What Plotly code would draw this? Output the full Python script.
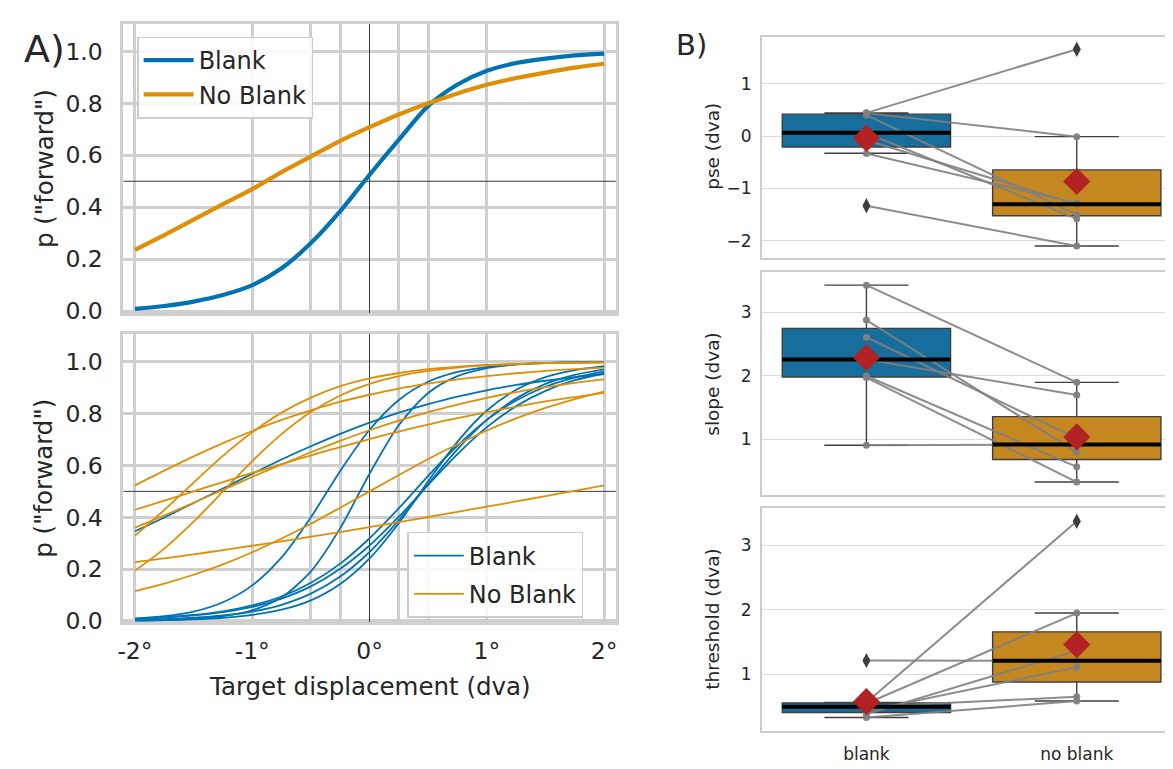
import plotly.graph_objects as go

# ---------------- Panel A data ----------------
disp = [-2, -1.75, -1.5, -1.25, -1, -0.75, -0.5, -0.25, 0, 0.25, 0.5, 0.75, 1, 1.25, 1.5, 1.75, 2]

mean_blank = [0.009, 0.020, 0.037, 0.062, 0.100, 0.165, 0.262, 0.385, 0.525, 0.660, 0.790, 0.872,
              0.925, 0.955, 0.972, 0.984, 0.991]
mean_noblank = [0.236, 0.293, 0.352, 0.412, 0.470, 0.535, 0.595, 0.655, 0.708, 0.757, 0.800, 0.838,
                0.871, 0.897, 0.918, 0.937, 0.952]

blank_1 = [0.346, 0.399, 0.455, 0.511, 0.568, 0.623, 0.674, 0.722, 0.765, 0.804, 0.837, 0.866, 0.890, 0.911, 0.927, 0.941, 0.953]
blank_2 = [0.008, 0.013, 0.021, 0.034, 0.054, 0.086, 0.133, 0.201, 0.291, 0.402, 0.525, 0.644, 0.748, 0.829, 0.888, 0.929, 0.955]
blank_3 = [0.009, 0.014, 0.023, 0.037, 0.060, 0.094, 0.147, 0.221, 0.319, 0.435, 0.560, 0.677, 0.776, 0.851, 0.904, 0.939, 0.962]
blank_4 = [0.001, 0.003, 0.008, 0.018, 0.041, 0.091, 0.191, 0.358, 0.568, 0.756, 0.880, 0.945, 0.976, 0.990, 0.996, 0.998, 0.999]
blank_5 = [0.004, 0.007, 0.012, 0.021, 0.036, 0.062, 0.105, 0.171, 0.266, 0.389, 0.528, 0.663, 0.776, 0.859, 0.915, 0.950, 0.971]
blank_6 = [0.009, 0.018, 0.036, 0.072, 0.137, 0.245, 0.400, 0.579, 0.738, 0.853, 0.923, 0.961, 0.980, 0.990, 0.995, 0.998, 0.999]
blank_7 = [0.002, 0.003, 0.006, 0.012, 0.023, 0.043, 0.079, 0.142, 0.241, 0.378, 0.539, 0.692, 0.812, 0.892, 0.941, 0.968, 0.983]

noblank_1 = [0.523, 0.580, 0.635, 0.686, 0.733, 0.776, 0.813, 0.846, 0.873, 0.897, 0.916, 0.932, 0.945, 0.956, 0.965, 0.972, 0.978]
noblank_2 = [0.227, 0.241, 0.257, 0.273, 0.290, 0.307, 0.325, 0.343, 0.362, 0.381, 0.401, 0.421, 0.441, 0.461, 0.482, 0.502, 0.523]
noblank_3 = [0.429, 0.464, 0.500, 0.536, 0.571, 0.605, 0.639, 0.671, 0.702, 0.731, 0.758, 0.783, 0.806, 0.827, 0.847, 0.864, 0.880]
noblank_4 = [0.194, 0.279, 0.383, 0.500, 0.617, 0.721, 0.806, 0.870, 0.915, 0.945, 0.965, 0.978, 0.986, 0.991, 0.995, 0.997, 0.998]
noblank_5 = [0.329, 0.428, 0.534, 0.637, 0.728, 0.804, 0.862, 0.906, 0.936, 0.957, 0.972, 0.981, 0.988, 0.992, 0.995, 0.997, 0.998]
noblank_6 = [0.360, 0.407, 0.456, 0.506, 0.556, 0.604, 0.651, 0.695, 0.736, 0.773, 0.806, 0.835, 0.861, 0.883, 0.902, 0.919, 0.932]
noblank_7 = [0.115, 0.144, 0.178, 0.218, 0.265, 0.318, 0.375, 0.437, 0.500, 0.563, 0.625, 0.682, 0.735, 0.782, 0.822, 0.856, 0.885]

x_tickvals = [-2, -1, 0, 1, 2]
x_ticktext = ["-2°", "-1°", "0°", "1°", "2°"]
x_minor_grid = [-0.5, -0.25, 0.25, 0.5]
chance_level = 0.5

# ---------------- Panel B data ----------------
conditions = ["blank", "no blank"]

pse_blank = [-1.33, 0.445, 0.40, -0.08, 0.06, -0.33, 0.44]
pse_noblank = [-2.10, 1.66, -1.50, -1.30, -1.58, -1.28, -0.01]
slope_blank = [0.91, 1.975, 2.00, 3.43, 2.26, 2.88, 2.61]
slope_noblank = [0.92, 0.33, 0.57, 1.90, 1.70, 0.80, 1.02]
thr_blank = [1.21, 0.56, 0.545, 0.328, 0.496, 0.38, 0.43]
thr_noblank = [1.209, 3.37, 1.947, 0.583, 0.649, 1.365, 1.107]

# box statistics per condition: [blank, no blank]
pse_q1 = [-0.207, -1.52]
pse_med = [0.063, -1.30]
pse_q3 = [0.42, -0.645]
pse_lo = [-0.326, -2.10]
pse_hi = [0.445, -0.01]
pse_fliers = [[-1.33], [1.66]]
pse_mean = [-0.04, -0.865]

slope_q1 = [1.985, 0.685]
slope_med = [2.26, 0.92]
slope_q3 = [2.75, 1.36]
slope_lo = [0.91, 0.33]
slope_hi = [3.43, 1.90]
slope_fliers = [[], []]
slope_mean = [2.29, 1.04]

thr_q1 = [0.405, 0.878]
thr_med = [0.496, 1.209]
thr_q3 = [0.552, 1.656]
thr_lo = [0.328, 0.583]
thr_hi = [0.56, 1.947]
thr_fliers = [[1.21], [3.37]]
thr_mean = [0.573, 1.458]

# ---------------- styles ----------------
W, H = 1173, 769
BLUE = "#0173b2"
ORANGE = "#de8f05"
BOX_FILL = ["#176e9d", "#c58820"]
GRID_A = "#cfcfcf"
TXT = "#262626"
FONT = "DejaVu Sans"
XRANGE_A = [-2.1, 2.1]


def px_x(p):
    return p / W


def px_y(p):
    return 1 - p / H


fig = go.Figure()

# chance-level reference lines (drawn first, under the curves)
for xa, ya in (("x", "y"), ("x2", "y2")):
    fig.add_trace(go.Scatter(x=XRANGE_A, y=[chance_level, chance_level], mode="lines",
                             line=dict(color="#3a3a3a", width=1), showlegend=False,
                             hoverinfo="skip", xaxis=xa, yaxis=ya))

# ---- Panel A top: group means ----
fig.add_trace(go.Scatter(x=disp, y=mean_blank, mode="lines", name="Blank",
                         line=dict(color=BLUE, width=4.2, shape="spline", smoothing=0.8),
                         xaxis="x", yaxis="y", legend="legend", hoverinfo="skip"))
fig.add_trace(go.Scatter(x=disp, y=mean_noblank, mode="lines", name="No Blank",
                         line=dict(color=ORANGE, width=4.2, shape="spline", smoothing=0.8),
                         xaxis="x", yaxis="y", legend="legend", hoverinfo="skip"))

# ---- Panel A bottom: individual subjects ----
blank_curves = [blank_1, blank_2, blank_3, blank_4, blank_5, blank_6, blank_7]
noblank_curves = [noblank_1, noblank_2, noblank_3, noblank_4, noblank_5, noblank_6, noblank_7]
for i, c in enumerate(blank_curves):
    fig.add_trace(go.Scatter(x=disp, y=c, mode="lines", name="Blank",
                             line=dict(color=BLUE, width=1.8, shape="spline", smoothing=0.8),
                             showlegend=(i == 0), legendgroup="b",
                             xaxis="x2", yaxis="y2", legend="legend2", hoverinfo="skip"))
for i, c in enumerate(noblank_curves):
    fig.add_trace(go.Scatter(x=disp, y=c, mode="lines", name="No Blank",
                             line=dict(color=ORANGE, width=1.8, shape="spline", smoothing=0.8),
                             showlegend=(i == 0), legendgroup="nb",
                             xaxis="x2", yaxis="y2", legend="legend2", hoverinfo="skip"))

# ---- Panel B ----
panels = [
    ("x3", "y3", pse_blank, pse_noblank, pse_q1, pse_med, pse_q3, pse_lo, pse_hi, pse_fliers, pse_mean),
    ("x4", "y4", slope_blank, slope_noblank, slope_q1, slope_med, slope_q3, slope_lo, slope_hi, slope_fliers, slope_mean),
    ("x5", "y5", thr_blank, thr_noblank, thr_q1, thr_med, thr_q3, thr_lo, thr_hi, thr_fliers, thr_mean),
]
BOX_W = 0.8
for xa, ya, vb, vnb, q1, med, q3, lo, hi, fl, mn in panels:
    for k in range(2):
        fig.add_trace(go.Box(x=[k], q1=[q1[k]], median=[med[k]], q3=[q3[k]],
                             lowerfence=[lo[k]], upperfence=[hi[k]],
                             width=BOX_W, whiskerwidth=0.5, fillcolor=BOX_FILL[k],
                             line=dict(color="#3f3f3f", width=1.4), boxpoints=False,
                             showlegend=False, hoverinfo="skip", xaxis=xa, yaxis=ya))
    for i in range(len(vb)):
        fig.add_trace(go.Scatter(x=[0, 1], y=[vb[i], vnb[i]], mode="lines+markers",
                                 line=dict(color="rgba(128,128,128,0.9)", width=2),
                                 marker=dict(size=7, color="rgba(128,128,128,0.95)"),
                                 showlegend=False, hoverinfo="skip", xaxis=xa, yaxis=ya))
    for k in range(2):
        fig.add_trace(go.Scatter(x=[k - BOX_W / 2, k + BOX_W / 2], y=[med[k], med[k]], mode="lines",
                                 line=dict(color="black", width=4),
                                 showlegend=False, hoverinfo="skip", xaxis=xa, yaxis=ya))
        if fl[k]:
            fig.add_trace(go.Scatter(x=[k] * len(fl[k]), y=fl[k], mode="markers",
                                     marker=dict(symbol="diamond-tall", size=11, color="#3d3d3d"),
                                     showlegend=False, hoverinfo="skip", xaxis=xa, yaxis=ya))
    fig.add_trace(go.Scatter(x=[0, 1], y=mn, mode="markers",
                             marker=dict(symbol="diamond", size=21, color="#b22222"),
                             showlegend=False, hoverinfo="skip", xaxis=xa, yaxis=ya))

# ---------------- axes ----------------
A_xdom = [px_x(110), px_x(606)]
axA_common = dict(range=XRANGE_A, tickvals=x_tickvals, ticktext=x_ticktext,
                  showgrid=True, gridcolor=GRID_A, gridwidth=2.5,
                  zeroline=True, zerolinecolor="#3a3a3a", zerolinewidth=1,
                  showline=True, linecolor=GRID_A, linewidth=2.5, mirror=True, ticks="",
                  minor=dict(tickvals=x_minor_grid, showgrid=True, gridcolor=GRID_A, gridwidth=2.5, ticks=""),
                  tickfont=dict(family=FONT, size=23.5, color=TXT), domain=A_xdom)
ayA_common = dict(range=[-0.006, 1.106], tickvals=[0, 0.2, 0.4, 0.6, 0.8, 1.0],
                  ticktext=["0.0", "0.2", "0.4", "0.6", "0.8", "1.0"],
                  showgrid=True, gridcolor=GRID_A, gridwidth=2.5, zeroline=False,
                  showline=True, linecolor=GRID_A, linewidth=2.5, mirror=True, ticks="",
                  tickfont=dict(family=FONT, size=23.5, color=TXT), ticklabelstandoff=13)

fig.update_layout(
    xaxis=dict(axA_common, anchor="y", showticklabels=False),
    yaxis=dict(ayA_common, anchor="x", domain=[px_y(310), px_y(16)]),
    xaxis2=dict(axA_common, anchor="y2", showticklabels=True, ticklabelstandoff=6),
    yaxis2=dict(ayA_common, anchor="x2", domain=[px_y(625), px_y(332)]),
)

B_xdom = [px_x(753), 1.0]
axB_common = dict(range=[-0.497, 1.486], tickvals=[0, 1], ticktext=conditions,
                  showgrid=False, zeroline=False, showline=True, linecolor="#cccccc",
                  linewidth=1.8, mirror=True, ticks="", domain=B_xdom,
                  tickfont=dict(family=FONT, size=17, color=TXT))
ayB_common = dict(showgrid=True, gridcolor="#dcdcdc", gridwidth=1.3, zeroline=False,
                  showline=True, linecolor="#cccccc", linewidth=1.8, mirror=False, ticks="",
                  tickfont=dict(family=FONT, size=17, color=TXT), ticklabelstandoff=5)
fig.update_layout(
    xaxis3=dict(axB_common, anchor="y3", showticklabels=False),
    yaxis3=dict(ayB_common, anchor="x3", range=[-2.323, 1.904], tickvals=[-2, -1, 0, 1],
                domain=[px_y(254), px_y(29)]),
    xaxis4=dict(axB_common, anchor="y4", showticklabels=False),
    yaxis4=dict(ayB_common, anchor="x4", range=[0.132, 3.63], tickvals=[1, 2, 3],
                domain=[px_y(495), px_y(269)]),
    xaxis5=dict(axB_common, anchor="y5", showticklabels=True, ticklabelstandoff=7),
    yaxis5=dict(ayB_common, anchor="x5", range=[0.125, 3.57], tickvals=[1, 2, 3],
                domain=[px_y(735), px_y(509)]),
)

annotations = [
    dict(text="A)", x=px_x(8), y=px_y(42), xref="paper", yref="paper", xanchor="left", yanchor="middle",
         showarrow=False, font=dict(family=FONT, size=38, color=TXT)),
    dict(text="B)", x=px_x(665), y=px_y(38), xref="paper", yref="paper", xanchor="left", yanchor="middle",
         showarrow=False, font=dict(family=FONT, size=29, color=TXT)),
    dict(text='p ("forward")', x=px_x(30), y=px_y(163), xref="paper", yref="paper", textangle=-90,
         xanchor="center", yanchor="middle", showarrow=False, font=dict(family=FONT, size=24.5, color=TXT)),
    dict(text='p ("forward")', x=px_x(30), y=px_y(478), xref="paper", yref="paper", textangle=-90,
         xanchor="center", yanchor="middle", showarrow=False, font=dict(family=FONT, size=24.5, color=TXT)),
    dict(text="Target displacement (dva)", x=px_x(358), y=px_y(690), xref="paper", yref="paper",
         xanchor="center", yanchor="middle", showarrow=False, font=dict(family=FONT, size=24.5, color=TXT)),
    dict(text="pse (dva)", x=px_x(703), y=px_y(141), xref="paper", yref="paper", textangle=-90,
         xanchor="center", yanchor="middle", showarrow=False, font=dict(family=FONT, size=18.5, color=TXT)),
    dict(text="slope (dva)", x=px_x(703), y=px_y(382), xref="paper", yref="paper", textangle=-90,
         xanchor="center", yanchor="middle", showarrow=False, font=dict(family=FONT, size=18.5, color=TXT)),
    dict(text="threshold (dva)", x=px_x(703), y=px_y(622), xref="paper", yref="paper", textangle=-90,
         xanchor="center", yanchor="middle", showarrow=False, font=dict(family=FONT, size=18.5, color=TXT)),
]

legend_style = dict(bgcolor="rgba(255,255,255,0.85)", bordercolor="#cccccc", borderwidth=1.5,
                    font=dict(family=FONT, size=24, color=TXT), xanchor="left", yanchor="top",
                    xref="paper", yref="paper", itemwidth=50, tracegroupgap=4)

fig.update_layout(
    width=W, height=H, margin=dict(l=0, r=0, t=0, b=0),
    paper_bgcolor="white", plot_bgcolor="white",
    showlegend=True, boxmode="overlay",
    legend=dict(legend_style, x=px_x(124), y=px_y(29)),
    legend2=dict(legend_style, x=px_x(396), y=px_y(533)),
    annotations=annotations,
    font=dict(family=FONT, color=TXT),
)

fig.write_html("out.html")
